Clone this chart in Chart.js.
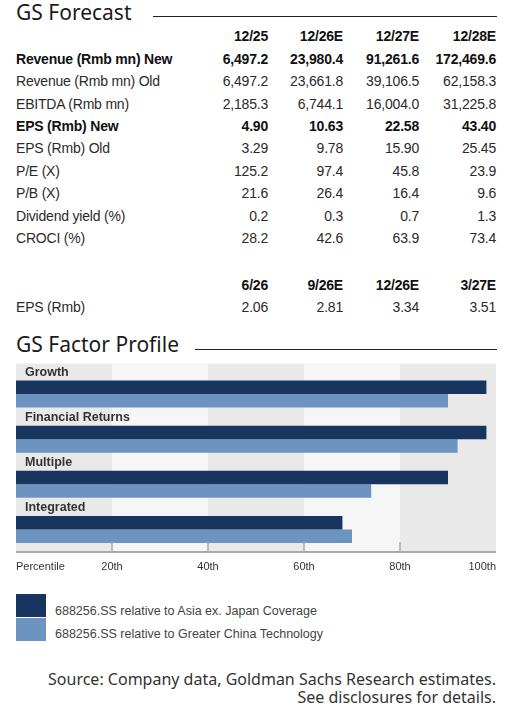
<!DOCTYPE html>
<html>
<head>
<meta charset="utf-8">
<script src="https://cdn.jsdelivr.net/npm/chart.js@4.4.1/dist/chart.umd.min.js"></script>
<style>
  html, body { margin: 0; padding: 0; background: #fff; }
  body { width: 511px; height: 709px; position: relative; overflow: hidden; font-family: "Liberation Sans", Arial, sans-serif; color: #2a2a2a; }
  .title { position: absolute; left: 16px; font-family: "Noto Sans", sans-serif; font-size: 21px; color: #1a1a1a; line-height: 24px; }
  .rule { position: absolute; height: 0; border-top: 1.5px solid #222; }
  .row { position: absolute; left: 0; width: 511px; height: 20px; line-height: 20px; font-size: 14px; letter-spacing: -0.2px; white-space: nowrap; }
  .row span { position: absolute; }
  .row.bold { font-weight: bold; color: #111; }
  .legend { position: absolute; left: 16px; }
  .sw { position: absolute; left: 0; width: 30px; height: 23px; }
  .lt { position: absolute; left: 39px; font-size: 12.5px; color: #444; white-space: nowrap; line-height: 16px; }
  .source { position: absolute; right: 15px; text-align: right; font-family: "Noto Sans", sans-serif; font-size: 16px; color: #333; line-height: 18px; }
  #chartBox { position: absolute; left: 0; top: 355px; width: 511px; height: 230px; }
</style>
</head>
<body>
<div class="title" style="top:0px">GS Forecast</div>
<div class="rule" style="left:153px; width:344px; top:16px"></div>
<div id="table"></div>

<div class="title" style="top:332px">GS Factor Profile</div>
<div class="rule" style="left:195px; width:302px; top:349px"></div>

<div id="chartBox"><canvas id="factorChart"></canvas></div>

<div class="legend" style="top:594px">
  <div class="sw" style="top:0; background:#17355e"></div>
  <div class="lt" style="top:9px">688256.SS relative to Asia ex. Japan Coverage</div>
  <div class="sw" style="top:24px; background:#6d94c0"></div>
  <div class="lt" style="top:32px">688256.SS relative to Greater China Technology</div>
</div>

<div class="source" style="top:670px">Source: Company data, Goldman Sachs Research estimates.<br>See disclosures for details.</div>

<script>
// forecast table
const periods = ["12/25", "12/26E", "12/27E", "12/28E"];
const revenueNew = [6497.2, 23980.4, 91261.6, 172469.6];
const revenueOld = [6497.2, 23661.8, 39106.5, 62158.3];
const ebitda = [2185.3, 6744.1, 16004.0, 31225.8];
const epsNew = [4.90, 10.63, 22.58, 43.40];
const epsOld = [3.29, 9.78, 15.90, 25.45];
const peRatio = [125.2, 97.4, 45.8, 23.9];
const pbRatio = [21.6, 26.4, 16.4, 9.6];
const dividendYield = [0.2, 0.3, 0.7, 1.3];
const croci = [28.2, 42.6, 63.9, 73.4];
const quarters = ["6/26", "9/26E", "12/26E", "3/27E"];
const epsQuarterly = [2.06, 2.81, 3.34, 3.51];

// factor profile
const factors = ["Growth", "Financial Returns", "Multiple", "Integrated"];
const asiaExJapan = [98, 98, 90, 68];
const greaterChinaTech = [90, 92, 74, 70];
const xTicks = [0, 20, 40, 60, 80, 100];
const xTickLabels = ["Percentile", "20th", "40th", "60th", "80th", "100th"];

const fmt = (d) => (v) => v.toLocaleString("en-US", { minimumFractionDigits: d, maximumFractionDigits: d });

const tableRows = [
  { label: "", values: periods, bold: true, y: 36 },
  { label: "Revenue (Rmb mn) New", values: revenueNew.map(fmt(1)), bold: true, y: 59 },
  { label: "Revenue (Rmb mn) Old", values: revenueOld.map(fmt(1)), y: 81 },
  { label: "EBITDA (Rmb mn)", values: ebitda.map(fmt(1)), y: 104 },
  { label: "EPS (Rmb) New", values: epsNew.map(fmt(2)), bold: true, y: 126 },
  { label: "EPS (Rmb) Old", values: epsOld.map(fmt(2)), y: 148 },
  { label: "P/E (X)", values: peRatio.map(fmt(1)), y: 171 },
  { label: "P/B (X)", values: pbRatio.map(fmt(1)), y: 193 },
  { label: "Dividend yield (%)", values: dividendYield.map(fmt(1)), y: 216 },
  { label: "CROCI (%)", values: croci.map(fmt(1)), y: 238 },
  { label: "", values: quarters, bold: true, y: 285 },
  { label: "EPS (Rmb)", values: epsQuarterly.map(fmt(2)), y: 307 },
];
const colRight = [268, 343, 419, 496];

const tableEl = document.getElementById("table");
tableRows.forEach((r) => {
  const row = document.createElement("div");
  row.className = "row" + (r.bold ? " bold" : "");
  row.style.top = (r.y - 10) + "px";
  let html = `<span style="left:16px">${r.label}</span>`;
  r.values.forEach((v, i) => {
    html += `<span style="right:${511 - colRight[i]}px">${v}</span>`;
  });
  row.innerHTML = html;
  tableEl.appendChild(row);
});

// grey/white bands go under the scale labels, axis line and ticks over the bars
const bandPlugin = {
  id: "bands",
  beforeDraw(chart) {
    const { ctx, chartArea, scales } = chart;
    const x = scales.x;
    const top = chartArea.top - 8;
    ctx.save();
    for (let i = 0; i < xTicks.length - 1; i++) {
      const x0 = x.getPixelForValue(xTicks[i]);
      const x1 = x.getPixelForValue(xTicks[i + 1]);
      ctx.fillStyle = i % 2 === 0 ? "#e9e9e9" : "#f6f6f6";
      ctx.fillRect(x0, top, x1 - x0, chartArea.bottom - top);
    }
    ctx.restore();
  },
  afterDatasetsDraw(chart) {
    const { ctx, chartArea, scales } = chart;
    const x = scales.x;
    ctx.save();
    ctx.strokeStyle = "#aaaaaa";
    ctx.lineWidth = 2;
    ctx.beginPath();
    ctx.moveTo(chartArea.left, chartArea.bottom);
    ctx.lineTo(chartArea.right, chartArea.bottom);
    ctx.stroke();
    ctx.lineWidth = 1.5;
    xTicks.slice(1, -1).forEach((t) => {
      const px = x.getPixelForValue(t);
      ctx.beginPath();
      ctx.moveTo(px, chartArea.bottom - 10);
      ctx.lineTo(px, chartArea.bottom);
      ctx.stroke();
    });
    ctx.fillStyle = "#333";
    ctx.font = "11px 'Liberation Sans', Arial, sans-serif";
    ctx.textBaseline = "middle";
    xTicks.forEach((t, i) => {
      ctx.textAlign = i === 0 ? "left" : i === xTicks.length - 1 ? "right" : "center";
      ctx.fillText(xTickLabels[i], x.getPixelForValue(t), chartArea.bottom + 15);
    });
    ctx.restore();
  },
};

new Chart(document.getElementById("factorChart"), {
  type: "bar",
  data: {
    labels: factors,
    datasets: [
      {
        label: "688256.SS relative to Asia ex. Japan Coverage",
        data: asiaExJapan,
        backgroundColor: "#17355e",
        categoryPercentage: 0.6,
        barPercentage: 1,
      },
      {
        label: "688256.SS relative to Greater China Technology",
        data: greaterChinaTech,
        backgroundColor: "#6d94c0",
        categoryPercentage: 0.6,
        barPercentage: 1,
      },
    ],
  },
  options: {
    indexAxis: "y",
    responsive: true,
    maintainAspectRatio: false,
    animation: false,
    layout: { padding: { left: 16, right: 15, top: 13, bottom: 33 } },
    scales: {
      x: { display: false, min: 0, max: 100 },
      y: {
        grid: { display: false, drawTicks: false },
        border: { display: false },
        afterFit: (s) => { s.width = 0; },
        ticks: {
          mirror: true,
          padding: 9,
          labelOffset: -22,
          color: "#333",
          font: { family: "'Liberation Sans', Arial, sans-serif", size: 12.5, weight: "bold" },
        },
      },
    },
    plugins: {
      legend: { display: false },
      tooltip: { enabled: false },
    },
  },
  plugins: [bandPlugin],
});
</script>
</body>
</html>
